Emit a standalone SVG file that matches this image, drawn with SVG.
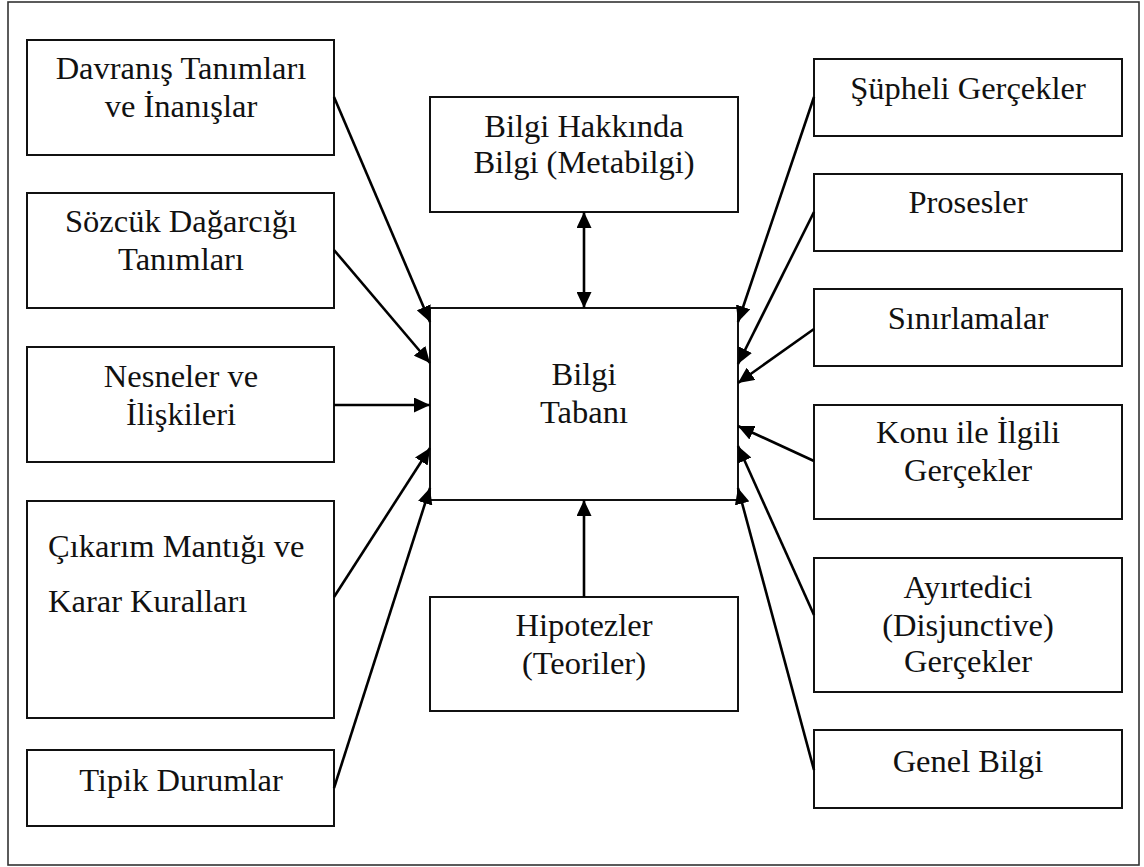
<svg xmlns="http://www.w3.org/2000/svg" width="1144" height="867" viewBox="0 0 1144 867">
  <style>
    .frame { fill: #ffffff; stroke: #333333; stroke-width: 1.6; }
    .box { fill: #ffffff; stroke: #111111; stroke-width: 2; }
    .label { font-family: "Liberation Serif", "Times New Roman", serif; font-size: 32.5px; fill: #111111; text-anchor: middle; }
    .left { text-anchor: start; }
    .edge { fill: none; stroke: #000000; stroke-width: 2.6; }
  </style>
  <defs>
    <marker id="arrow" viewBox="0 0 16 15" refX="16" refY="7.5" markerWidth="16" markerHeight="15" markerUnits="userSpaceOnUse" orient="auto-start-reverse">
      <path d="M0,0 L16,7.5 L0,15 Z" fill="#000000"/>
    </marker>
  </defs>

  <rect width="1144" height="867" fill="#ffffff"/>
  <rect class="frame" x="8" y="2" width="1131" height="863"/>

  <!-- left column -->
  <g id="davranis">
    <rect class="box" x="27" y="40" width="307" height="115"/>
    <text class="label" x="181" y="79">Davranış Tanımları</text>
    <text class="label" x="181" y="117">ve İnanışlar</text>
  </g>
  <g id="sozcuk">
    <rect class="box" x="27" y="193" width="307" height="115"/>
    <text class="label" x="181" y="232">Sözcük Dağarcığı</text>
    <text class="label" x="181" y="270">Tanımları</text>
  </g>
  <g id="nesneler">
    <rect class="box" x="27" y="347" width="307" height="115"/>
    <text class="label" x="181" y="387">Nesneler ve</text>
    <text class="label" x="181" y="425">İlişkileri</text>
  </g>
  <g id="cikarim">
    <rect class="box" x="27" y="501" width="307" height="217"/>
    <text class="label left" x="48" y="557">Çıkarım Mantığı ve</text>
    <text class="label left" x="48" y="612">Karar Kuralları</text>
  </g>
  <g id="tipik">
    <rect class="box" x="27" y="750" width="307" height="76"/>
    <text class="label" x="181" y="791">Tipik Durumlar</text>
  </g>

  <!-- centre column -->
  <g id="metabilgi">
    <rect class="box" x="430" y="97" width="308" height="115"/>
    <text class="label" x="584" y="137">Bilgi Hakkında</text>
    <text class="label" x="584" y="173">Bilgi (Metabilgi)</text>
  </g>
  <g id="bilgi-tabani">
    <rect class="box" x="430" y="308" width="308" height="192"/>
    <text class="label" x="584" y="385">Bilgi</text>
    <text class="label" x="584" y="423">Tabanı</text>
  </g>
  <g id="hipotezler">
    <rect class="box" x="430" y="597" width="308" height="114"/>
    <text class="label" x="584" y="636">Hipotezler</text>
    <text class="label" x="584" y="674">(Teoriler)</text>
  </g>

  <!-- right column -->
  <g id="supheli">
    <rect class="box" x="814" y="59" width="308" height="77"/>
    <text class="label" x="968" y="99">Şüpheli Gerçekler</text>
  </g>
  <g id="prosesler">
    <rect class="box" x="814" y="174" width="308" height="77"/>
    <text class="label" x="968" y="213">Prosesler</text>
  </g>
  <g id="sinirlamalar">
    <rect class="box" x="814" y="289" width="308" height="77"/>
    <text class="label" x="968" y="329">Sınırlamalar</text>
  </g>
  <g id="konu">
    <rect class="box" x="814" y="405" width="308" height="114"/>
    <text class="label" x="968" y="443">Konu ile İlgili</text>
    <text class="label" x="968" y="481">Gerçekler</text>
  </g>
  <g id="ayirtedici">
    <rect class="box" x="814" y="558" width="308" height="134"/>
    <text class="label" x="968" y="598">Ayırtedici</text>
    <text class="label" x="968" y="636">(Disjunctive)</text>
    <text class="label" x="968" y="672">Gerçekler</text>
  </g>
  <g id="genel">
    <rect class="box" x="814" y="730" width="308" height="78"/>
    <text class="label" x="968" y="772">Genel Bilgi</text>
  </g>

  <!-- connectors into the knowledge base -->
  <g id="connectors">
    <line class="edge" x1="334" y1="97" x2="430" y2="322" marker-end="url(#arrow)"/>
    <line class="edge" x1="334" y1="250" x2="430" y2="363" marker-end="url(#arrow)"/>
    <line class="edge" x1="334" y1="405" x2="430" y2="405" marker-end="url(#arrow)"/>
    <line class="edge" x1="334" y1="597" x2="430" y2="448" marker-end="url(#arrow)"/>
    <line class="edge" x1="334" y1="788" x2="430" y2="488" marker-end="url(#arrow)"/>
    <line class="edge" x1="584" y1="212" x2="584" y2="308" marker-start="url(#arrow)" marker-end="url(#arrow)"/>
    <line class="edge" x1="584" y1="597" x2="584" y2="500" marker-end="url(#arrow)"/>
    <line class="edge" x1="814" y1="97" x2="738" y2="322" marker-end="url(#arrow)"/>
    <line class="edge" x1="814" y1="212" x2="738" y2="364" marker-end="url(#arrow)"/>
    <line class="edge" x1="814" y1="329" x2="738" y2="383" marker-end="url(#arrow)"/>
    <line class="edge" x1="814" y1="461" x2="738" y2="426" marker-end="url(#arrow)"/>
    <line class="edge" x1="814" y1="615" x2="738" y2="446" marker-end="url(#arrow)"/>
    <line class="edge" x1="814" y1="770" x2="738" y2="488" marker-end="url(#arrow)"/>
  </g>
</svg>
